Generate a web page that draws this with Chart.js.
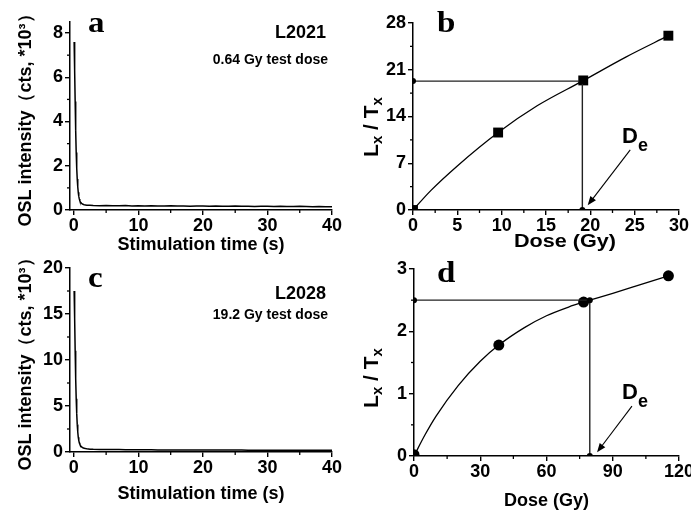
<!DOCTYPE html>
<html>
<head>
<meta charset="utf-8">
<script src="https://cdn.jsdelivr.net/npm/chart.js@4.4.1/dist/chart.umd.min.js"></script>
<style>
  html, body { margin: 0; padding: 0; background: #fff; }
  #wrap { position: relative; width: 691px; height: 513px; overflow: hidden; background: #fff; }
  canvas { position: absolute; }
</style>
</head>
<body>
<div id="wrap">
  <canvas id="chartA" width="345" height="256" style="left:0;top:0"></canvas>
  <canvas id="chartB" width="346" height="256" style="left:345px;top:0"></canvas>
  <canvas id="chartC" width="345" height="257" style="left:0;top:256px"></canvas>
  <canvas id="chartD" width="346" height="257" style="left:345px;top:256px"></canvas>
</div>
<script>
// OSL decay curves (a, c), time in s, intensity in 10^3 cts
const timeS = [0.04, 0.12, 0.2, 0.28, 0.36, 0.44, 0.52, 0.6, 0.68, 0.76, 0.84, 0.92, 1.0,
  1.2, 1.4, 1.6, 1.8, 2.0, 2.5,
  3, 4, 5, 6, 7, 8, 9, 10, 11, 12, 13, 14, 15, 16, 17, 18, 19, 20,
  21, 22, 23, 24, 25, 26, 27, 28, 29, 30, 31, 32, 33, 34, 35, 36, 37, 38, 39, 40];
const oslA = [7.6, 6.3, 4.9, 3.6, 2.6, 1.9, 1.4, 1.05, 0.8, 0.62, 0.5, 0.42, 0.36,
  0.3, 0.26, 0.24, 0.23, 0.22, 0.21,
  0.2, 0.19, 0.2, 0.19, 0.19, 0.2, 0.18, 0.19, 0.18, 0.19, 0.18, 0.18, 0.19, 0.18, 0.18, 0.17, 0.18, 0.18,
  0.17, 0.18, 0.17, 0.17, 0.18, 0.17, 0.17, 0.16, 0.17, 0.17, 0.16, 0.17, 0.16, 0.16, 0.17, 0.16, 0.15, 0.16, 0.15, 0.15];
const oslC = [17.5, 14.5, 11.0, 8.0, 5.8, 4.2, 3.0, 2.2, 1.6, 1.25, 1.0, 0.85, 0.72,
  0.55, 0.46, 0.4, 0.37, 0.35, 0.31,
  0.29, 0.28, 0.27, 0.26, 0.26, 0.25, 0.25, 0.24, 0.24, 0.24, 0.23, 0.23, 0.23, 0.23, 0.22, 0.22, 0.22, 0.22,
  0.22, 0.21, 0.21, 0.21, 0.21, 0.21, 0.2, 0.2, 0.2, 0.2, 0.2, 0.2, 0.2, 0.2, 0.19, 0.19, 0.2, 0.19, 0.19, 0.2];

// dose response, panel b (L2021)
const doseB = [0, 9.6, 19.2, 28.8];
const ratioB = [0, 11.6, 19.4, 26.1];
const fitDoseB = [0, 2, 5, 9.6, 14, 19.1, 24, 28.8];
const fitRatioB = [0, 2.9, 6.6, 11.6, 15.6, 19.3, 22.9, 26.1];
const deB = 19.1, deRatioB = 19.3;

// dose response, panel d (L2028)
const doseD = [0, 38.4, 76.8, 115.2];
const ratioD = [0.02, 1.78, 2.47, 2.89];
const fitDoseD = [0, 5, 10, 20, 30, 38.4, 50, 60, 70, 76.8, 79.6, 90, 100, 115.2];
const fitRatioD = [0, 0.34, 0.64, 1.13, 1.52, 1.78, 2.06, 2.25, 2.39, 2.47, 2.5, 2.61, 2.72, 2.89];
const deD = 79.6, deRatioD = 2.5;

const SANS = '"Liberation Sans", Arial, sans-serif';
const tickFont = { family: SANS, weight: 'bold', size: 18 };
const titleFont = { family: SANS, weight: 'bold', size: 18 };

const pts = (xs, ys) => xs.map((x, i) => ({ x: x, y: ys[i] }));

function axisX(min, max, step, boxH, title, titlePad) {
  return {
    type: 'linear', position: 'bottom', min: min, max: max,
    ticks: { stepSize: step, includeBounds: false, autoSkip: false, maxRotation: 0,
             color: '#000', padding: 0, font: tickFont },
    grid: { drawOnChartArea: false, drawTicks: true, tickLength: 5, color: '#000', lineWidth: 1.4 },
    border: { display: true, color: '#000', width: 1.5 },
    title: { display: !!title, text: title, color: '#000', font: titleFont,
             padding: { top: 0, bottom: titlePad || 0 } },
    afterFit(s) { s.height = boxH; s.paddingLeft = 0; s.paddingRight = 0; }
  };
}

function axisY(min, max, step, boxW, title, titlePad) {
  return {
    type: 'linear', position: 'left', min: min, max: max,
    ticks: { stepSize: step, includeBounds: false, autoSkip: false,
             color: '#000', padding: 2, font: tickFont },
    grid: { drawOnChartArea: false, drawTicks: true, tickLength: 5, color: '#000', lineWidth: 1.4 },
    border: { display: true, color: '#000', width: 1.5 },
    title: { display: !!title, text: title, color: '#000', font: titleFont,
             padding: { top: titlePad || 0, bottom: 0 } },
    afterFit(s) { s.width = boxW; s.paddingTop = 0; s.paddingBottom = 0; }
  };
}

function drawRich(ctx, t) {
  ctx.save();
  ctx.translate(t.x, t.y);
  if (t.rot) ctx.rotate(t.rot);
  if (t.sx) ctx.scale(t.sx, 1);
  ctx.textBaseline = t.baseline || 'alphabetic';
  let total = 0;
  const widths = t.parts.map(p => {
    ctx.font = 'bold ' + p.size + 'px ' + (p.family || SANS);
    const w = ctx.measureText(p.t).width;
    total += w;
    return w;
  });
  let cx = t.align === 'right' ? -total : t.align === 'center' ? -total / 2 : 0;
  t.parts.forEach((p, i) => {
    ctx.font = 'bold ' + p.size + 'px ' + (p.family || SANS);
    ctx.fillStyle = '#000';
    ctx.fillText(p.t, cx, p.dy || 0);
    cx += widths[i];
  });
  ctx.restore();
}

const decoMap = {};
const decoPlugin = {
  id: 'deco',
  afterDraw(chart) {
    const d = decoMap[chart.canvas.id];
    if (!d) return;
    const ctx = chart.ctx;
    const xs = chart.scales.x, ys = chart.scales.y;
    const area = chart.chartArea;
    ctx.save();
    ctx.strokeStyle = '#000';
    ctx.lineWidth = 1.3;
    d.minorX.forEach(v => {
      const px = xs.getPixelForValue(v);
      ctx.beginPath(); ctx.moveTo(px, area.bottom); ctx.lineTo(px, area.bottom + 3); ctx.stroke();
    });
    d.minorY.forEach(v => {
      const py = ys.getPixelForValue(v);
      ctx.beginPath(); ctx.moveTo(area.left, py); ctx.lineTo(area.left - 3, py); ctx.stroke();
    });
    d.texts.forEach(t => drawRich(ctx, t));
    if (d.arrow) {
      const a = d.arrow;
      const x1 = xs.getPixelForValue(a.from[0]), y1 = ys.getPixelForValue(a.from[1]);
      const x2 = xs.getPixelForValue(a.to[0]), y2 = ys.getPixelForValue(a.to[1]);
      const ang = Math.atan2(y2 - y1, x2 - x1);
      ctx.lineWidth = 1.1;
      ctx.beginPath(); ctx.moveTo(x1, y1); ctx.lineTo(x2 - 6 * Math.cos(ang), y2 - 6 * Math.sin(ang)); ctx.stroke();
      ctx.fillStyle = '#000';
      ctx.beginPath();
      ctx.moveTo(x2, y2);
      ctx.lineTo(x2 - 9 * Math.cos(ang) + 3.5 * Math.sin(ang), y2 - 9 * Math.sin(ang) - 3.5 * Math.cos(ang));
      ctx.lineTo(x2 - 9 * Math.cos(ang) - 3.5 * Math.sin(ang), y2 - 9 * Math.sin(ang) + 3.5 * Math.cos(ang));
      ctx.closePath(); ctx.fill();
    }
    ctx.restore();
  }
};

const letter = (s, x, y) => ({ x: x, y: y, sx: 1.1, parts: [{ t: s, size: 30, family: '"Liberation Serif", "Times New Roman", serif' }] });
const lxtx = (x, y) => ({ x: x, y: y, rot: -Math.PI / 2, align: 'center', baseline: 'middle',
  parts: [{ t: 'L', size: 21 }, { t: 'x', size: 15, dy: 6 }, { t: ' / T', size: 21 }, { t: 'x', size: 15, dy: 6 }] });
const deLabel = (x, y) => ({ x: x, y: y, parts: [{ t: 'D', size: 22 }, { t: 'e', size: 18, dy: 8 }] });

decoMap.chartA = {
  minorX: [5, 15, 25, 35], minorY: [1, 3, 5, 7],
  texts: [
    letter('a', 88, 32),
    { x: 326, y: 38, align: 'right', parts: [{ t: 'L2021', size: 18 }] },
    { x: 328, y: 64, align: 'right', parts: [{ t: '0.64 Gy test dose', size: 14 }] }
  ]
};
decoMap.chartB = {
  minorX: [2.5, 7.5, 12.5, 17.5, 22.5, 27.5], minorY: [3.5, 10.5, 17.5, 24.5],
  texts: [
    letter('b', 92, 32),
    lxtx(27, 127),
    { x: 220, y: 247, align: 'center', sx: 1.2, parts: [{ t: 'Dose (Gy)', size: 18 }] },
    deLabel(277, 143)
  ],
  arrow: { from: [24.5, 9.0], to: [19.7, 0.7] }
};
decoMap.chartC = {
  minorX: [5, 15, 25, 35], minorY: [2.5, 7.5, 12.5, 17.5],
  texts: [
    letter('c', 88, 31),
    { x: 326, y: 43, align: 'right', parts: [{ t: 'L2028', size: 18 }] },
    { x: 328, y: 63, align: 'right', parts: [{ t: '19.2 Gy test dose', size: 14 }] }
  ]
};
decoMap.chartD = {
  minorX: [15, 45, 75, 105], minorY: [0.5, 1.5, 2.5],
  texts: [
    letter('d', 92, 26),
    lxtx(27, 122),
    deLabel(277, 143)
  ],
  arrow: { from: [98.7, 0.8], to: [82.9, 0.06] }
};

const commonPlugins = { legend: { display: false }, tooltip: { enabled: false } };

function decayChart(id, ys, ymax, ystep, top, right, boxH, titlePad) {
  return new Chart(document.getElementById(id), {
    type: 'scatter',
    data: { datasets: [{
      data: pts(timeS, ys), showLine: true, borderColor: '#000', borderWidth: 1.5,
      pointRadius: 0, tension: 0
    }] },
    options: {
      responsive: false, animation: false, events: [],
      layout: { padding: { left: 0, top: top, right: right, bottom: 0 } },
      plugins: commonPlugins,
      scales: {
        x: axisX(-0.6, 40, 10, boxH, 'Stimulation time (s)', titlePad),
        y: axisY(0, ymax, ystep, 70, 'OSL intensity\uFF08cts, *10\u00B3\uFF09', 15)
      }
    },
    plugins: [decoPlugin]
  });
}

function doseChart(id, d) {
  return new Chart(document.getElementById(id), {
    type: 'scatter',
    data: { datasets: [
      { data: [{ x: 0, y: d.deY }, { x: d.deX, y: d.deY }, { x: d.deX, y: 0 }], showLine: true,
        borderColor: '#222', borderWidth: 1.4, tension: 0,
        pointRadius: 3, pointStyle: 'circle', pointBackgroundColor: '#000', pointBorderWidth: 0 },
      { data: pts(d.fitX, d.fitY), showLine: true, borderColor: '#000', borderWidth: 1.3,
        pointRadius: 0, cubicInterpolationMode: 'monotone' },
      { data: pts(d.x, d.y), showLine: false, pointStyle: d.style, pointRadius: d.r,
        pointBackgroundColor: '#000', pointBorderColor: '#000', pointBorderWidth: 0 }
    ] },
    options: {
      responsive: false, animation: false, events: [],
      layout: { padding: { left: 0, top: d.top, right: d.right, bottom: 0 } },
      plugins: commonPlugins,
      scales: {
        x: axisX(0, d.xmax, d.xstep, d.boxH, d.xtitle, d.titlePad),
        y: axisY(0, d.ymax, d.ystep, d.boxW, '', 0)
      }
    },
    plugins: [decoPlugin]
  });
}

decayChart('chartA', oslA, 8.5, 2, 22, 13, 46, 0);
decayChart('chartC', oslC, 20, 5, 12, 13, 61, 8);

doseChart('chartB', { x: doseB, y: ratioB, fitX: fitDoseB, fitY: fitRatioB, deX: deB, deY: deRatioB,
  style: 'rect', r: 7, xmax: 30, xstep: 5, ymax: 28, ystep: 7,
  top: 23, right: 12, boxH: 46, boxW: 68, xtitle: '', titlePad: 0 });
doseChart('chartD', { x: doseD, y: ratioD, fitX: fitDoseD, fitY: fitRatioD, deX: deD, deY: deRatioD,
  style: 'circle', r: 5.5, xmax: 120, xstep: 30, ymax: 3, ystep: 1,
  top: 13, right: 12, boxH: 57, boxW: 69, xtitle: 'Dose (Gy)', titlePad: 1 });
</script>
</body>
</html>
